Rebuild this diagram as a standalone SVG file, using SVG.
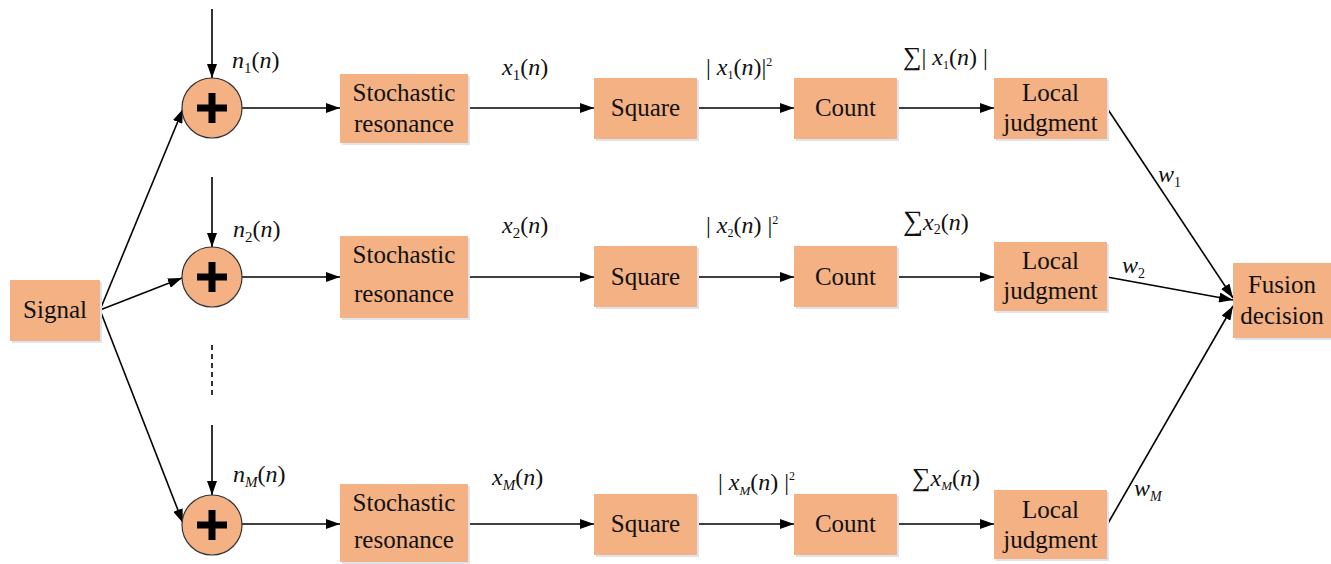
<svg xmlns="http://www.w3.org/2000/svg" width="1331" height="564" viewBox="0 0 1331 564">
<style>
.box{fill:#F4B183;}
.sh{fill:#dfe3ec;}
.circ{fill:#F4B183;stroke:#333;stroke-width:1.2;}
.plus{stroke:#000;stroke-width:7;}
.t{font-family:"Liberation Serif",Tinos,"Times New Roman",Times,"Noto Serif","DejaVu Serif",serif;font-size:25px;fill:#111;text-anchor:middle;}
.m{font-family:"Liberation Serif",Tinos,"Times New Roman",Times,"Noto Serif","DejaVu Serif",serif;font-size:24px;fill:#111;}
.i{font-style:italic;}
.line{stroke:#000;stroke-width:1.6;fill:none;}
</style>
<defs>
<marker id="ah" viewBox="0 0 14 10" refX="14" refY="5" markerWidth="14" markerHeight="10" markerUnits="userSpaceOnUse" orient="auto">
<path d="M0,0 L14,5 L0,10 Z" fill="#000"/>
</marker>
</defs>
<g id="connectors">
<line class="line" x1="212" y1="9" x2="212" y2="78" marker-end="url(#ah)"/>
<line class="line" x1="212" y1="177" x2="212" y2="247" marker-end="url(#ah)"/>
<line class="line" x1="212" y1="425" x2="212" y2="495" marker-end="url(#ah)"/>
<line class="line" x1="212" y1="345" x2="212" y2="398" stroke-dasharray="5,4"/>
<line class="line" x1="100" y1="310" x2="183" y2="109" marker-end="url(#ah)"/>
<line class="line" x1="100" y1="310" x2="182" y2="278" marker-end="url(#ah)"/>
<line class="line" x1="100" y1="310" x2="183" y2="523" marker-end="url(#ah)"/>
<line class="line" x1="242" y1="108" x2="340" y2="108" marker-end="url(#ah)"/>
<line class="line" x1="468" y1="108" x2="594" y2="108" marker-end="url(#ah)"/>
<line class="line" x1="697" y1="108" x2="794" y2="108" marker-end="url(#ah)"/>
<line class="line" x1="897" y1="108" x2="994" y2="108" marker-end="url(#ah)"/>
<line class="line" x1="242" y1="277" x2="340" y2="277" marker-end="url(#ah)"/>
<line class="line" x1="468" y1="277" x2="594" y2="277" marker-end="url(#ah)"/>
<line class="line" x1="697" y1="277" x2="794" y2="277" marker-end="url(#ah)"/>
<line class="line" x1="897" y1="277" x2="994" y2="277" marker-end="url(#ah)"/>
<line class="line" x1="242" y1="524" x2="340" y2="524" marker-end="url(#ah)"/>
<line class="line" x1="468" y1="524" x2="594" y2="524" marker-end="url(#ah)"/>
<line class="line" x1="697" y1="524" x2="794" y2="524" marker-end="url(#ah)"/>
<line class="line" x1="897" y1="524" x2="994" y2="524" marker-end="url(#ah)"/>
<line class="line" x1="1107" y1="108" x2="1233" y2="298" marker-end="url(#ah)"/>
<line class="line" x1="1107" y1="277" x2="1233" y2="300" marker-end="url(#ah)"/>
<line class="line" x1="1107" y1="525" x2="1233" y2="306" marker-end="url(#ah)"/>
</g>
<g id="signal"><rect class="sh" x="12" y="282" width="90" height="61"/><rect class="box" x="10" y="280" width="90" height="61"/><text class="t" x="55" y="318">Signal</text></g>
<g id="sum1"><circle class="circ" cx="212" cy="108" r="30"/><line class="plus" x1="197" y1="108" x2="227" y2="108"/><line class="plus" x1="212" y1="93" x2="212" y2="123"/></g>
<g id="sum2"><circle class="circ" cx="212" cy="277" r="30"/><line class="plus" x1="197" y1="277" x2="227" y2="277"/><line class="plus" x1="212" y1="262" x2="212" y2="292"/></g>
<g id="sumM"><circle class="circ" cx="212" cy="525" r="30"/><line class="plus" x1="197" y1="525" x2="227" y2="525"/><line class="plus" x1="212" y1="510" x2="212" y2="540"/></g>
<g id="sr1"><rect class="sh" x="342" y="76" width="128" height="69"/><rect class="box" x="340" y="74" width="128" height="69"/><text class="t" x="404" y="101">Stochastic</text><text class="t" x="404" y="132">resonance</text></g>
<g id="sr2"><rect class="sh" x="342" y="238" width="128" height="82"/><rect class="box" x="340" y="236" width="128" height="82"/><text class="t" x="404" y="263">Stochastic</text><text class="t" x="404" y="302">resonance</text></g>
<g id="srM"><rect class="sh" x="342" y="486" width="128" height="78"/><rect class="box" x="340" y="484" width="128" height="78"/><text class="t" x="404" y="511">Stochastic</text><text class="t" x="404" y="548">resonance</text></g>
<g id="sq1"><rect class="sh" x="596" y="80" width="103" height="61"/><rect class="box" x="594" y="78" width="103" height="61"/><text class="t" x="645.5" y="116">Square</text></g>
<g id="sq2"><rect class="sh" x="596" y="248" width="103" height="61"/><rect class="box" x="594" y="246" width="103" height="61"/><text class="t" x="645.5" y="285">Square</text></g>
<g id="sqM"><rect class="sh" x="596" y="496" width="103" height="61"/><rect class="box" x="594" y="494" width="103" height="61"/><text class="t" x="645.5" y="532">Square</text></g>
<g id="ct1"><rect class="sh" x="796" y="80" width="103" height="61"/><rect class="box" x="794" y="78" width="103" height="61"/><text class="t" x="845.5" y="116">Count</text></g>
<g id="ct2"><rect class="sh" x="796" y="248" width="103" height="61"/><rect class="box" x="794" y="246" width="103" height="61"/><text class="t" x="845.5" y="285">Count</text></g>
<g id="ctM"><rect class="sh" x="796" y="496" width="103" height="61"/><rect class="box" x="794" y="494" width="103" height="61"/><text class="t" x="845.5" y="532">Count</text></g>
<g id="lj1"><rect class="sh" x="996" y="80" width="113" height="61"/><rect class="box" x="994" y="78" width="113" height="61"/><text class="t" x="1050.5" y="101">Local</text><text class="t" x="1050.5" y="131">judgment</text></g>
<g id="lj2"><rect class="sh" x="996" y="244" width="113" height="69"/><rect class="box" x="994" y="242" width="113" height="69"/><text class="t" x="1050.5" y="269">Local</text><text class="t" x="1050.5" y="299">judgment</text></g>
<g id="ljM"><rect class="sh" x="996" y="492" width="113" height="69"/><rect class="box" x="994" y="490" width="113" height="69"/><text class="t" x="1050.5" y="518">Local</text><text class="t" x="1050.5" y="548">judgment</text></g>
<g id="fusion"><rect class="sh" x="1235" y="265" width="98" height="75"/><rect class="box" x="1233" y="263" width="98" height="75"/><text class="t" x="1282" y="293">Fusion</text><text class="t" x="1282" y="324">decision</text></g>
<g id="labels">
<text class="m" x="232" y="68"><tspan class="i">n</tspan><tspan font-size="15" dy="5">1</tspan><tspan dy="-5">(</tspan><tspan class="i">n</tspan>)</text>
<text class="m" x="233" y="237"><tspan class="i">n</tspan><tspan font-size="15" dy="5">2</tspan><tspan dy="-5">(</tspan><tspan class="i">n</tspan>)</text>
<text class="m" x="233" y="482"><tspan class="i">n</tspan><tspan class="i" font-size="15" dy="5">M</tspan><tspan dy="-5">(</tspan><tspan class="i">n</tspan>)</text>
<text class="m" x="502" y="75"><tspan class="i">x</tspan><tspan font-size="15" dy="5">1</tspan><tspan dy="-5">(</tspan><tspan class="i">n</tspan>)</text>
<text class="m" x="502" y="233"><tspan class="i">x</tspan><tspan font-size="15" dy="5">2</tspan><tspan dy="-5">(</tspan><tspan class="i">n</tspan>)</text>
<text class="m" x="492" y="485"><tspan class="i">x</tspan><tspan class="i" font-size="15" dy="5">M</tspan><tspan dy="-5">(</tspan><tspan class="i">n</tspan>)</text>
<text class="m" x="706" y="75" font-size="19">| <tspan class="i">x</tspan><tspan font-size="12" dy="4">1</tspan><tspan dy="-4">(</tspan><tspan class="i">n</tspan>)|<tspan font-size="12" dy="-9">2</tspan></text>
<text class="m" x="706" y="233" font-size="19">| <tspan class="i">x</tspan><tspan font-size="12" dy="4">2</tspan><tspan dy="-4">(</tspan><tspan class="i">n</tspan>) |<tspan font-size="12" dy="-9">2</tspan></text>
<text class="m" x="718" y="490" font-size="21">| <tspan class="i">x</tspan><tspan class="i" font-size="13" dy="5">M</tspan><tspan dy="-5">(</tspan><tspan class="i">n</tspan>) |<tspan font-size="12" dy="-10">2</tspan></text>
<text class="m" x="903" y="65" font-size="19"><tspan font-size="26">∑</tspan>| <tspan class="i">x</tspan><tspan font-size="12" dy="4">1</tspan><tspan dy="-4">(</tspan><tspan class="i">n</tspan>) |</text>
<text class="m" x="903" y="230" font-size="22"><tspan font-size="28">∑</tspan><tspan class="i">x</tspan><tspan font-size="14" dy="4">2</tspan><tspan dy="-4">(</tspan><tspan class="i">n</tspan>)</text>
<text class="m" x="912" y="486" font-size="21"><tspan font-size="26">∑</tspan><tspan class="i">x</tspan><tspan class="i" font-size="13" dy="4">M</tspan><tspan dy="-4">(</tspan><tspan class="i">n</tspan>)</text>
<text class="m" x="1158" y="182" font-size="22"><tspan class="i">w</tspan><tspan font-size="14" dy="5">1</tspan></text>
<text class="m" x="1122" y="273" font-size="22"><tspan class="i">w</tspan><tspan font-size="14" dy="5">2</tspan></text>
<text class="m" x="1134" y="496" font-size="22"><tspan class="i">w</tspan><tspan class="i" font-size="14" dy="5">M</tspan></text>
</g>
</svg>
